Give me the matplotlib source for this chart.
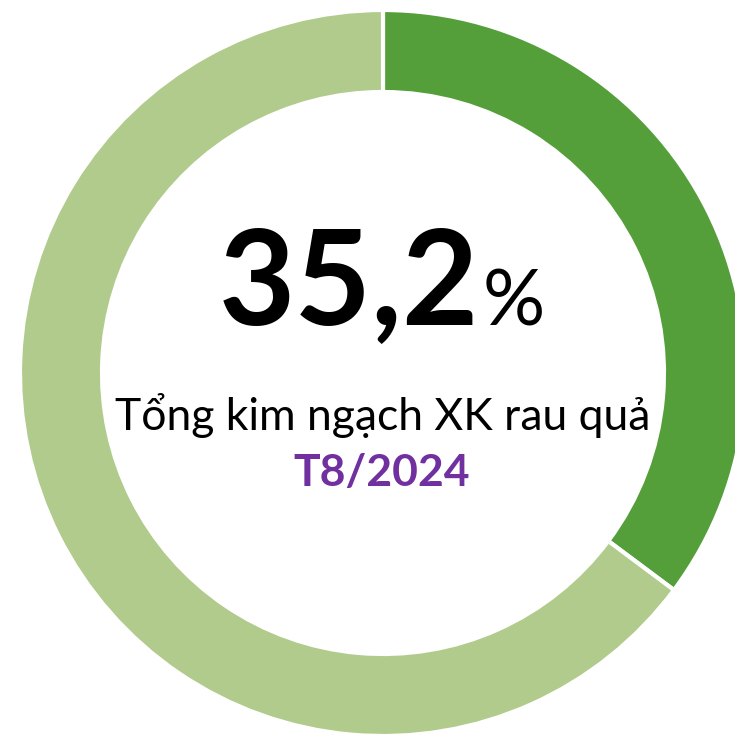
import matplotlib
matplotlib.use("Agg")
import matplotlib.pyplot as plt

# share of fruit & vegetable exports
labels = ["Tỷ trọng", "Còn lại"]
shares = [35.2, 64.8]
colors = ["#559F3B", "#B0CB8B"]

big_value = "35,2"
subtitle = "Tổng kim ngạch XK rau quả"
period = "T8/2024"

W, H = 735, 737
fig = plt.figure(figsize=(W / 100, H / 100), dpi=100)
ax = fig.add_axes([0, 0, 1, 1])

cx, cy = 383, H - 373
R = 363
ax.pie(shares, colors=colors, startangle=90, counterclock=False,
       center=(cx, cy), radius=R,
       wedgeprops=dict(width=R - 281, edgecolor="white", linewidth=3))
ax.set_xlim(0, W)
ax.set_ylim(0, H)
ax.set_aspect("auto")
ax.axis("off")

fam = ["Lato", "Noto Sans", "DejaVu Sans"]
ax.text(479, H - 325, big_value, ha="right", va="baseline",
        fontsize=95, fontweight="bold", family=fam, color="black")
ax.text(483, H - 325, "%", ha="left", va="baseline",
        fontsize=56, family=fam, color="black")
ax.text(383, H - 430, subtitle, ha="center", va="baseline",
        fontsize=32, family=fam, color="black")
ax.text(382, H - 486, period, ha="center", va="baseline",
        fontsize=32, fontweight="bold", family=fam, color="#7030A0")

fig.savefig("out.png", dpi=100)
